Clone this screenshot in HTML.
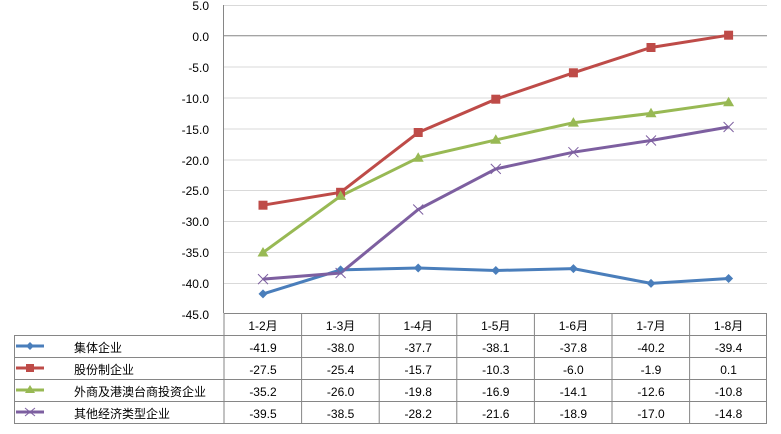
<!DOCTYPE html>
<html><head><meta charset="utf-8"><style>
body{margin:0;background:#fff;width:781px;height:429px;overflow:hidden}
text{font-family:"Liberation Sans","Noto Sans CJK SC",sans-serif;font-size:12px;fill:#000}
</style></head><body>
<svg width="781" height="429" viewBox="0 0 781 429" xmlns="http://www.w3.org/2000/svg">
<g stroke="#d9d9d9" stroke-width="1">
<line x1="224" y1="5.5" x2="767" y2="5.5"/>
<line x1="224" y1="67" x2="767" y2="67"/>
<line x1="224" y1="98" x2="767" y2="98"/>
<line x1="224" y1="129" x2="767" y2="129"/>
<line x1="224" y1="160" x2="767" y2="160"/>
<line x1="224" y1="190.5" x2="767" y2="190.5"/>
<line x1="224" y1="221.5" x2="767" y2="221.5"/>
<line x1="224" y1="252.5" x2="767" y2="252.5"/>
<line x1="224" y1="283.5" x2="767" y2="283.5"/>
</g>
<line x1="224" y1="35.8" x2="767" y2="35.8" stroke="#868686"/>
<line x1="223.5" y1="5" x2="223.5" y2="313" stroke="#868686"/>
<g text-anchor="end">
<text x="209" y="10">5.0</text><text x="209" y="41">0.0</text><text x="209" y="72">-5.0</text>
<text x="209" y="103">-10.0</text><text x="209" y="134">-15.0</text><text x="209" y="165">-20.0</text>
<text x="209" y="195">-25.0</text><text x="209" y="226">-30.0</text><text x="209" y="257">-35.0</text>
<text x="209" y="288">-40.0</text><text x="209" y="319">-45.0</text>
</g>
<!-- table -->
<g stroke="#868686" stroke-width="1" fill="none">
<line x1="224" y1="313.5" x2="767" y2="313.5"/>
<line x1="14" y1="335.5" x2="767" y2="335.5"/>
<line x1="14" y1="357.5" x2="767" y2="357.5"/>
<line x1="14" y1="379.5" x2="767" y2="379.5"/>
<line x1="14" y1="401.5" x2="767" y2="401.5"/>
<line x1="14" y1="423.5" x2="767" y2="423.5"/>
<line x1="14.5" y1="335" x2="14.5" y2="424"/>
<line x1="224" y1="313" x2="224" y2="424"/>
<line x1="301.6" y1="313" x2="301.6" y2="424"/>
<line x1="379.2" y1="313" x2="379.2" y2="424"/>
<line x1="456.8" y1="313" x2="456.8" y2="424"/>
<line x1="534.4" y1="313" x2="534.4" y2="424"/>
<line x1="612" y1="313" x2="612" y2="424"/>
<line x1="689.6" y1="313" x2="689.6" y2="424"/>
<line x1="766.5" y1="313" x2="766.5" y2="424"/>
</g>
<g text-anchor="middle">
<text x="263" y="330">1-2月</text><text x="340.6" y="330">1-3月</text><text x="418.2" y="330">1-4月</text><text x="495.8" y="330">1-5月</text><text x="573.4" y="330">1-6月</text><text x="651" y="330">1-7月</text><text x="728.6" y="330">1-8月</text>
<text x="263" y="352">-41.9</text><text x="340.6" y="352">-38.0</text><text x="418.2" y="352">-37.7</text><text x="495.8" y="352">-38.1</text><text x="573.4" y="352">-37.8</text><text x="651" y="352">-40.2</text><text x="728.6" y="352">-39.4</text>
<text x="263" y="374">-27.5</text><text x="340.6" y="374">-25.4</text><text x="418.2" y="374">-15.7</text><text x="495.8" y="374">-10.3</text><text x="573.4" y="374">-6.0</text><text x="651" y="374">-1.9</text><text x="728.6" y="374">0.1</text>
<text x="263" y="396">-35.2</text><text x="340.6" y="396">-26.0</text><text x="418.2" y="396">-19.8</text><text x="495.8" y="396">-16.9</text><text x="573.4" y="396">-14.1</text><text x="651" y="396">-12.6</text><text x="728.6" y="396">-10.8</text>
<text x="263" y="418">-39.5</text><text x="340.6" y="418">-38.5</text><text x="418.2" y="418">-28.2</text><text x="495.8" y="418">-21.6</text><text x="573.4" y="418">-18.9</text><text x="651" y="418">-17.0</text><text x="728.6" y="418">-14.8</text>
</g>
<g font-size="13">
<text x="74" y="352">集体企业</text><text x="74" y="374">股份制企业</text><text x="74" y="396">外商及港澳台商投资企业</text><text x="74" y="418">其他经济类型企业</text>
</g>
<!-- legend keys -->
<line x1="16" y1="346" x2="44" y2="346" stroke="#4a7ebb" stroke-width="3"/><path d="M30 342 L34 346 L30 350 L26 346Z" fill="#4a7ebb"/>
<line x1="16" y1="368" x2="44" y2="368" stroke="#be4b48" stroke-width="3"/><rect x="26" y="364" width="8" height="8" fill="#be4b48"/>
<line x1="16" y1="390" x2="44" y2="390" stroke="#98b954" stroke-width="3"/><path d="M30 385 L35 393 L25 393Z" fill="#98b954"/>
<line x1="16" y1="412" x2="44" y2="412" stroke="#7d5fa0" stroke-width="3"/><path d="M25 408 L35 416 M25 416 L35 408" stroke="#7d5fa0" stroke-width="1"/>
<!-- series -->
<polyline fill="none" stroke="#4a7ebb" stroke-width="3" points="263,293.9 340.6,269.9 418.2,268 495.8,270.5 573.4,268.6 651,283.4 728.6,278.5"/>
<polyline fill="none" stroke="#be4b48" stroke-width="3" points="263,205.2 340.6,192.3 418.2,132.5 495.8,99.2 573.4,72.8 651,47.5 728.6,35.2"/>
<polyline fill="none" stroke="#98b954" stroke-width="3" points="263,252.6 340.6,196 418.2,157.8 495.8,139.9 573.4,122.7 651,113.4 728.6,102.3"/>
<polyline fill="none" stroke="#7d5fa0" stroke-width="3" points="263,279.1 340.6,273 418.2,209.5 495.8,168.9 573.4,152.2 651,140.5 728.6,127"/>
<g fill="#4a7ebb">
<path d="M263 289.4l4.5 4.5-4.5 4.5-4.5-4.5z"/><path d="M340.6 265.4l4.5 4.5-4.5 4.5-4.5-4.5z"/><path d="M418.2 263.5l4.5 4.5-4.5 4.5-4.5-4.5z"/><path d="M495.8 266l4.5 4.5-4.5 4.5-4.5-4.5z"/><path d="M573.4 264.1l4.5 4.5-4.5 4.5-4.5-4.5z"/><path d="M651 278.9l4.5 4.5-4.5 4.5-4.5-4.5z"/><path d="M728.6 274l4.5 4.5-4.5 4.5-4.5-4.5z"/>
</g>
<g fill="#be4b48">
<rect x="258.5" y="200.7" width="9" height="9"/><rect x="336.1" y="187.8" width="9" height="9"/><rect x="413.7" y="128" width="9" height="9"/><rect x="491.3" y="94.7" width="9" height="9"/><rect x="568.9" y="68.3" width="9" height="9"/><rect x="646.5" y="43" width="9" height="9"/><rect x="724.1" y="30.7" width="9" height="9"/>
</g>
<g fill="#98b954">
<path d="M263 247l5.5 9.5h-11z"/><path d="M340.6 190.4l5.5 9.5h-11z"/><path d="M418.2 152.2l5.5 9.5h-11z"/><path d="M495.8 134.3l5.5 9.5h-11z"/><path d="M573.4 117.1l5.5 9.5h-11z"/><path d="M651 107.8l5.5 9.5h-11z"/><path d="M728.6 96.7l5.5 9.5h-11z"/>
</g>
<g stroke="#7d5fa0" stroke-width="1">
<path d="M258 274.1l10 10M258 284.1l10-10"/><path d="M335.6 268l10 10M335.6 278l10-10"/><path d="M413.2 204.5l10 10M413.2 214.5l10-10"/><path d="M490.8 163.9l10 10M490.8 173.9l10-10"/><path d="M568.4 147.2l10 10M568.4 157.2l10-10"/><path d="M646 135.5l10 10M646 145.5l10-10"/><path d="M723.6 122l10 10M723.6 132l10-10"/>
</g>
</svg>
</body></html>
